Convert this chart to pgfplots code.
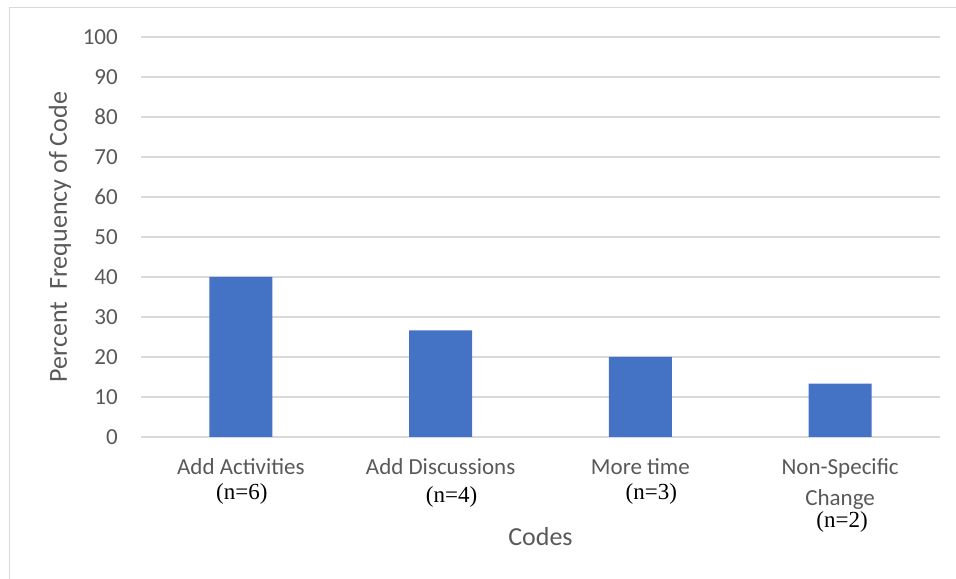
\documentclass[border=0pt]{standalone}
\usepackage{pgfplots}
\pgfplotsset{compat=1.18}
\usepackage{fontspec}
\setmainfont{Carlito}
\newfontfamily\serifn{Liberation Serif}
\definecolor{barblue}{HTML}{4472C4}
\definecolor{gridgray}{HTML}{D9D9D9}
\definecolor{labgray}{HTML}{595959}
\newcommand\ticksize{\fontsize{23bp}{27bp}\selectfont}
\newcommand\titlesize{\fontsize{26bp}{30bp}\selectfont}
\newcommand\nsize{\serifn\fontsize{23bp}{27bp}\selectfont}
\tikzset{
  cat/.style={anchor=base, inner sep=0.5bp, font=\ticksize, text=labgray},
  cnt/.style={anchor=base, inner sep=0.5bp, font=\nsize},
}

\begin{document}
\begin{tikzpicture}
\path[use as bounding box] (0,0) rectangle (956bp,579bp);
\begin{axis}[
  at={(141bp,142bp)}, anchor=south west,
  scale only axis, width=799bp, height=400bp,
  xmin=-0.5, xmax=3.5, ymin=0, ymax=100,
  ytick={0,10,...,100}, xtick=\empty,
  ymajorgrids, grid style={gridgray, line width=1.3bp},
  axis line style={draw=none},
  major tick length=0pt,
  /pgf/number format/assume math mode=true,
  yticklabel style={font=\ticksize, text=labgray, anchor=east, inner sep=0pt, xshift=-23bp},
  ybar, bar width=63bp,
  clip=false,
  ylabel={Percent\ \ Frequency of Code},
  ylabel style={at={(axis description cs:-0.1014,0.5)}, anchor=center, font=\titlesize, text=labgray},
  xlabel={Codes},
  xlabel style={at={(axis description cs:0.5,-0.27)}, anchor=base, font=\titlesize, text=labgray},
]
\addplot[fill=barblue, draw=none] coordinates {(0,40) (1,26.67) (2,20) (3,13.33)};

% category names
\node[cat, yshift=-38bp] at (axis cs:0,0) {Add Activities};
\node[cat, yshift=-38bp] at (axis cs:1,0) {Add Discussions};
\node[cat, yshift=-38bp] at (axis cs:2,0) {More time};
\node[cat, yshift=-38bp] at (axis cs:3,0) {Non-Specific};
\node[cat, yshift=-68bp] at (axis cs:3,0) {Change};

% counts per code
\node[cnt, yshift=-62bp, xshift=1bp] at (axis cs:0,0) {(n=6)};
\node[cnt, yshift=-65bp, xshift=11bp] at (axis cs:1,0) {(n=4)};
\node[cnt, yshift=-62bp, xshift=11bp] at (axis cs:2,0) {(n=3)};
\node[cnt, yshift=-90bp, xshift=2bp] at (axis cs:3,0) {(n=2)};
\end{axis}
\draw[gridgray, line width=1bp] (9bp,0) -- (9bp,571bp) -- (956bp,571bp);
\end{tikzpicture}
\end{document}
